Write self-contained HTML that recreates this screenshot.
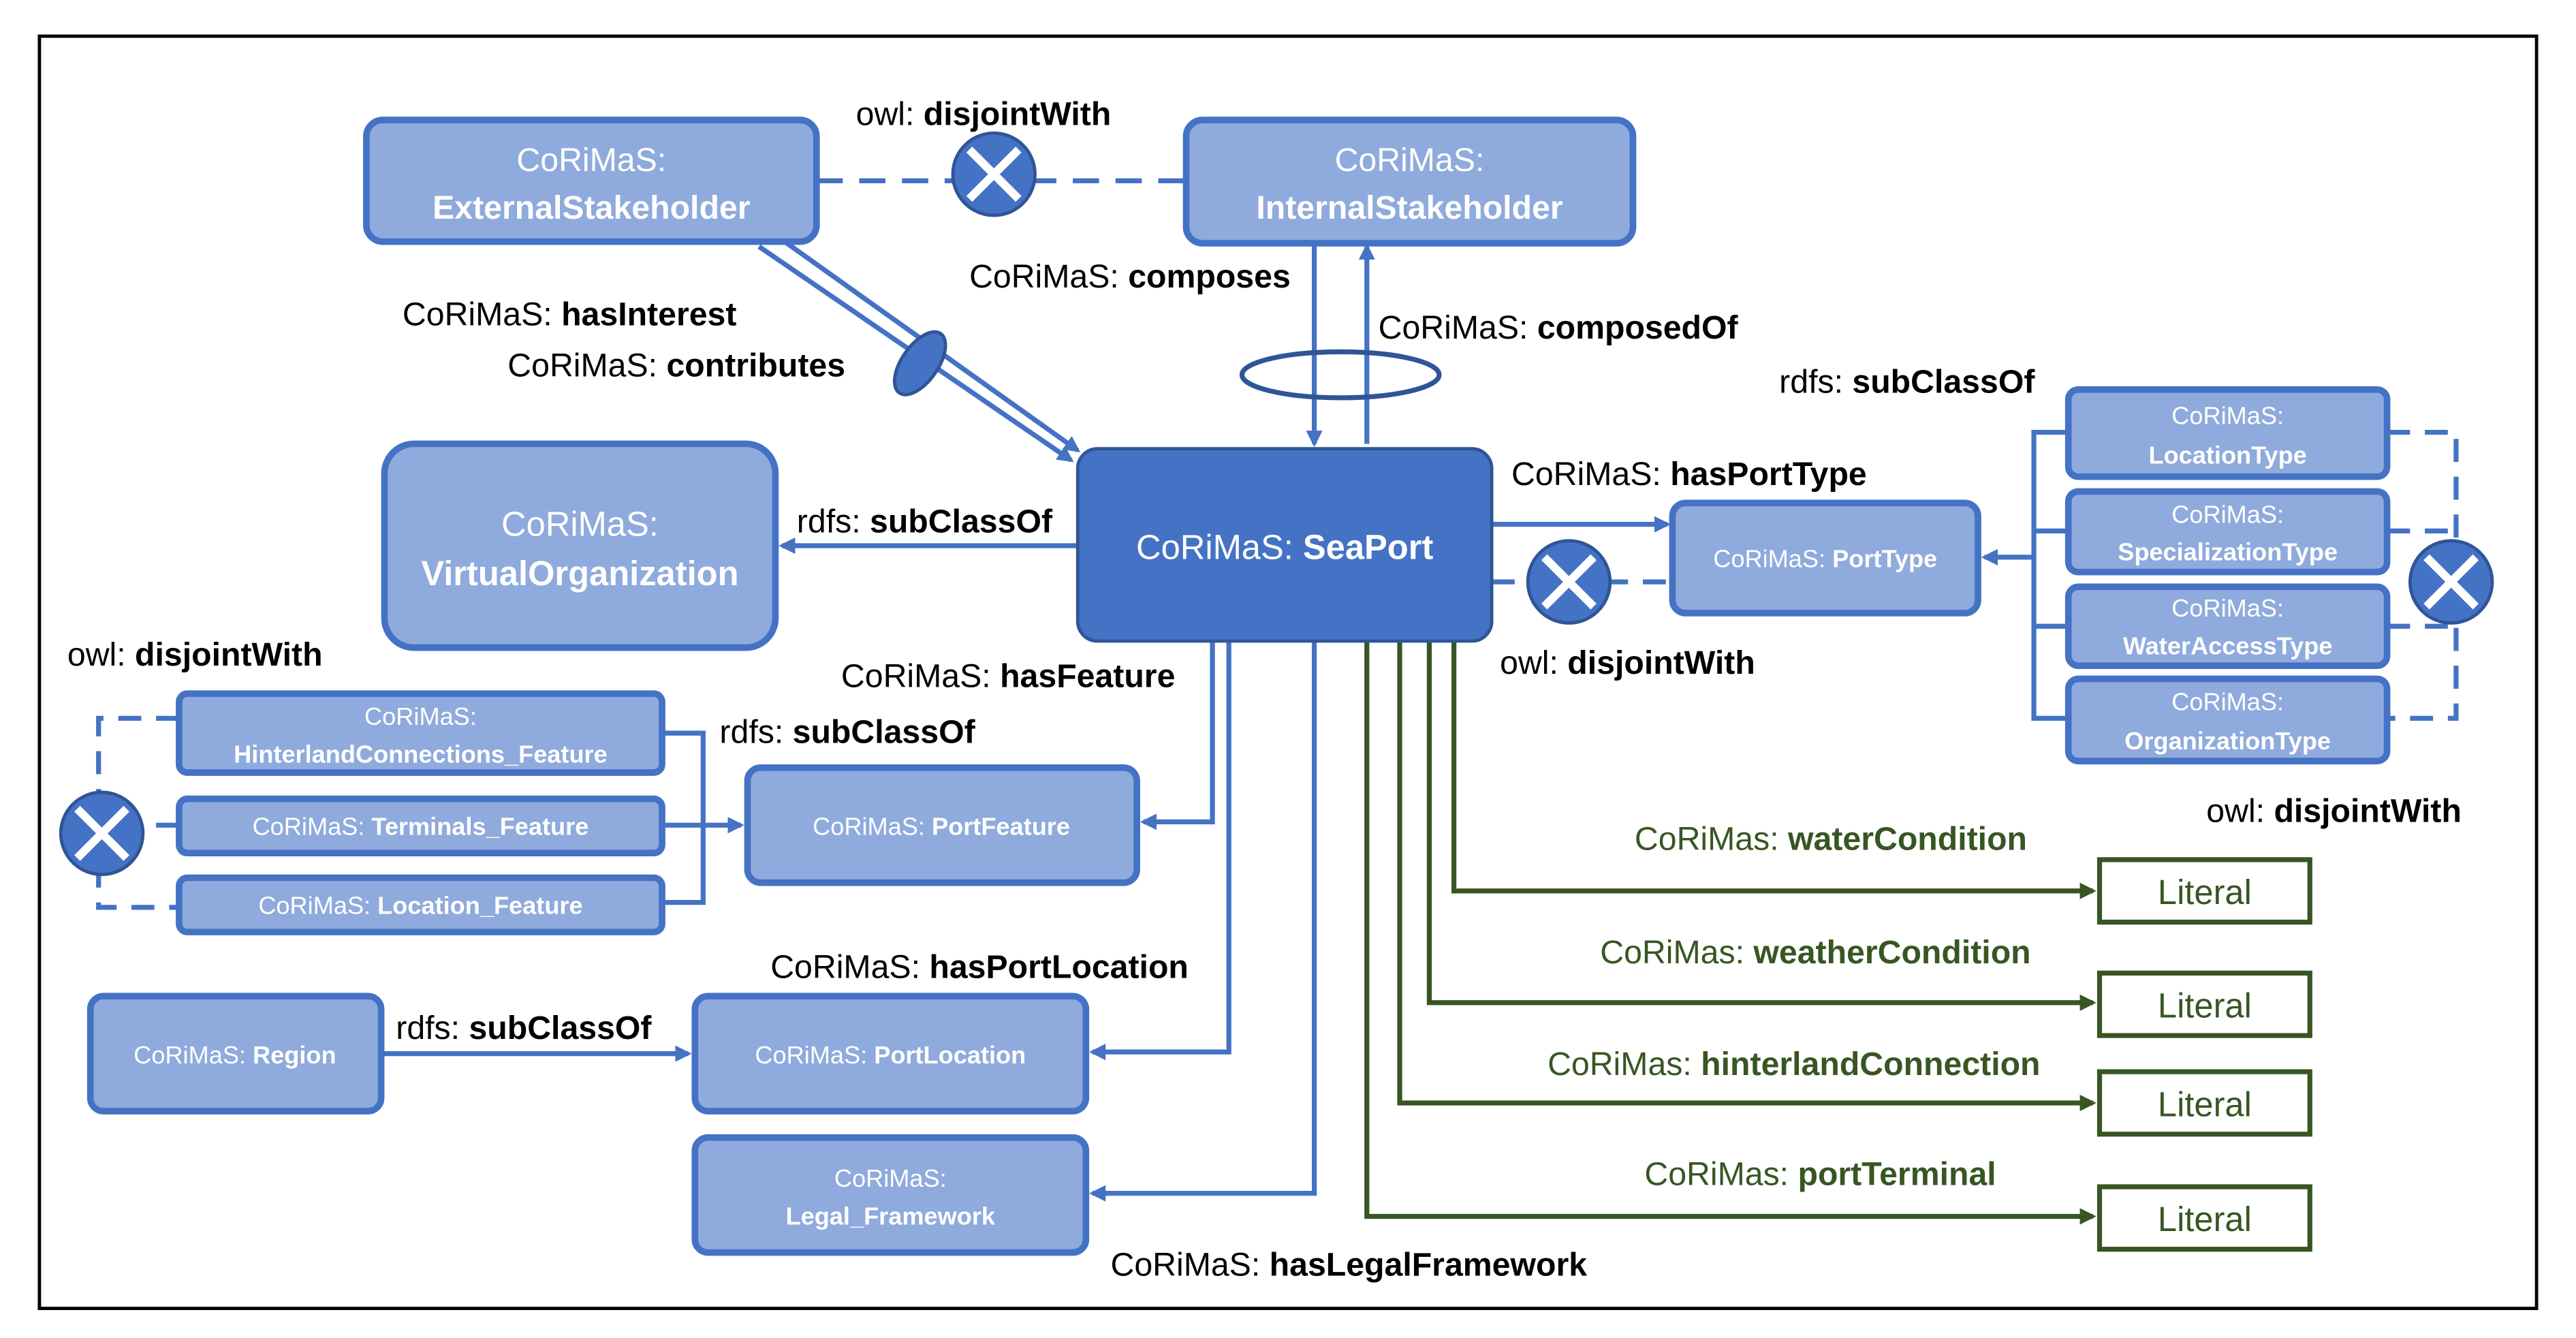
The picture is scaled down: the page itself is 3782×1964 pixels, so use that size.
<!DOCTYPE html>
<html><head><meta charset="utf-8"><style>
html,body{margin:0;padding:0;background:#fff;}
svg{display:block;}
text{font-family:"Liberation Sans","DejaVu Sans",sans-serif;}
</style></head><body>
<svg width="3782" height="1964" viewBox="0 0 1568 814" preserveAspectRatio="none" xmlns="http://www.w3.org/2000/svg">
<defs>
<marker id="ab" markerWidth="10" markerHeight="10" refX="8" refY="5" orient="auto" markerUnits="userSpaceOnUse"><path d="M0,0 L10,5 L0,10 Z" fill="#4472c4"/></marker>
<marker id="ag" markerWidth="10" markerHeight="10" refX="8" refY="5" orient="auto" markerUnits="userSpaceOnUse"><path d="M0,0 L10,5 L0,10 Z" fill="#375623"/></marker>
<g id="x"><circle r="25" fill="#4472c4" stroke="#2f5597" stroke-width="2"/><path d="M-15,-15 L15,15 M15,-15 L-15,15" stroke="#fff" stroke-width="5"/></g>
</defs>
<rect x="24" y="22" width="1520" height="774" fill="#fff" stroke="#000" stroke-width="2"/>

<g fill="none" stroke="#4472c4" stroke-width="3">
<path d="M497,110 L722,110" stroke-dasharray="16,10"/>
<path d="M462,150 L652,280" marker-end="url(#ab)"/>
<path d="M472,143 L656,274" marker-end="url(#ab)"/>
<path d="M800,148 L800,270" marker-end="url(#ab)"/>
<path d="M832,270 L832,150" marker-end="url(#ab)"/>
<ellipse cx="816" cy="228" rx="60" ry="14" stroke="#2f5597"/>
<path d="M656,332 L476,332" marker-end="url(#ab)"/>
<path d="M908,319 L1015,319" marker-end="url(#ab)"/>
<path d="M908,354 L1018,354" stroke-dasharray="14,9"/>
<path d="M1259,263 L1238,263 L1238,437 L1259,437 M1238,323 L1259,323 M1238,381 L1259,381"/>
<path d="M1238,339 L1208,339" marker-end="url(#ab)"/>
<path d="M1453,263 L1495,263 L1495,437 L1453,437 M1453,323 L1495,323 M1453,381 L1495,381" stroke-dasharray="14,9"/>
<path d="M738,390 L738,500 L696,500" marker-end="url(#ab)"/>
<path d="M403,446 L428,446 L428,549 L403,549" />
<path d="M109,437 L60,437 L60,552 L109,552 M109,502 L60,502" stroke-dasharray="14,9"/>
<path d="M748,390 L748,640 L665,640" marker-end="url(#ab)"/>
<path d="M800,390 L800,726 L665,726" marker-end="url(#ab)"/>
<path d="M232,641 L419,641" marker-end="url(#ab)"/>
</g>
<path d="M403,502 L451,502" stroke="#4472c4" stroke-width="3" fill="none" marker-end="url(#ab)"/>
<ellipse cx="560" cy="221" rx="22" ry="11" transform="rotate(-55 560 221)" fill="#4472c4" stroke="#2f5597" stroke-width="2"/>
<g fill="none" stroke="#375623" stroke-width="3">
<path d="M885,390 L885,542 L1274,542" marker-end="url(#ag)"/>
<path d="M870,390 L870,610 L1274,610" marker-end="url(#ag)"/>
<path d="M852,390 L852,671 L1274,671" marker-end="url(#ag)"/>
<path d="M832,390 L832,740 L1274,740" marker-end="url(#ag)"/>
</g>

<use href="#x" x="605" y="106"/>
<use href="#x" x="955" y="354"/>
<use href="#x" x="1492" y="354"/>
<use href="#x" x="62" y="507"/>

<g fill="#8faadc" stroke="#4472c4" stroke-width="4">
<rect x="223" y="73" width="274" height="74" rx="10"/>
<rect x="722" y="73" width="272" height="75" rx="10"/>
<rect x="234" y="270" width="238" height="124" rx="18"/>
<rect x="1018" y="306" width="186" height="67" rx="8"/>
<rect x="1259" y="237" width="194" height="53" rx="6"/>
<rect x="1259" y="299" width="194" height="49" rx="6"/>
<rect x="1259" y="357" width="194" height="48" rx="6"/>
<rect x="1259" y="413" width="194" height="50" rx="6"/>
<rect x="109" y="422" width="294" height="48" rx="5"/>
<rect x="109" y="486" width="294" height="33" rx="5"/>
<rect x="109" y="534" width="294" height="33" rx="5"/>
<rect x="455" y="467" width="237" height="70" rx="8"/>
<rect x="55" y="606" width="177" height="70" rx="8"/>
<rect x="423" y="606" width="238" height="70" rx="8"/>
<rect x="423" y="692" width="238" height="70" rx="8"/>
</g>
<rect x="656" y="273" width="252" height="117" rx="12" fill="#4472c4" stroke="#2f5597" stroke-width="2"/>
<g fill="#fff" stroke="#375623" stroke-width="3">
<rect x="1278" y="523" width="128" height="38"/>
<rect x="1278" y="592" width="128" height="38"/>
<rect x="1278" y="652" width="128" height="38"/>
<rect x="1278" y="722" width="128" height="38"/>
</g>

<g fill="#fff" text-anchor="middle">
<text x="360" y="104" font-size="20">CoRiMaS:</text>
<text x="360" y="133" font-size="20" font-weight="bold">ExternalStakeholder</text>
<text x="858" y="104" font-size="20">CoRiMaS:</text>
<text x="858" y="133" font-size="20" font-weight="bold">InternalStakeholder</text>
<text x="353" y="326" font-size="21">CoRiMaS:</text>
<text x="353" y="356" font-size="21" font-weight="bold">VirtualOrganization</text>
<text x="782" y="340" font-size="21">CoRiMaS: <tspan font-weight="bold">SeaPort</tspan></text>
<text x="1111" y="345" font-size="15">CoRiMaS: <tspan font-weight="bold">PortType</tspan></text>
<g font-size="15">
<text x="1356" y="258">CoRiMaS:</text><text x="1356" y="282" font-weight="bold">LocationType</text>
<text x="1356" y="318">CoRiMaS:</text><text x="1356" y="341" font-weight="bold">SpecializationType</text>
<text x="1356" y="375">CoRiMaS:</text><text x="1356" y="398" font-weight="bold">WaterAccessType</text>
<text x="1356" y="432">CoRiMaS:</text><text x="1356" y="456" font-weight="bold">OrganizationType</text>
<text x="256" y="441">CoRiMaS:</text><text x="256" y="464" font-weight="bold">HinterlandConnections_Feature</text>
<text x="256" y="508">CoRiMaS: <tspan font-weight="bold">Terminals_Feature</tspan></text>
<text x="256" y="556">CoRiMaS: <tspan font-weight="bold">Location_Feature</tspan></text>
<text x="573" y="508">CoRiMaS: <tspan font-weight="bold">PortFeature</tspan></text>
<text x="143" y="647">CoRiMaS: <tspan font-weight="bold">Region</tspan></text>
<text x="542" y="647">CoRiMaS: <tspan font-weight="bold">PortLocation</tspan></text>
<text x="542" y="722">CoRiMaS:</text><text x="542" y="745" font-weight="bold">Legal_Framework</text>
</g>
</g>
<g fill="#375623" font-size="21" text-anchor="middle">
<text x="1342" y="550">Literal</text>
<text x="1342" y="619">Literal</text>
<text x="1342" y="679">Literal</text>
<text x="1342" y="749">Literal</text>
</g>

<g fill="#000" font-size="20">
<text x="521" y="76">owl: <tspan font-weight="bold">disjointWith</tspan></text>
<text x="590" y="175">CoRiMaS: <tspan font-weight="bold">composes</tspan></text>
<text x="245" y="198">CoRiMaS: <tspan font-weight="bold">hasInterest</tspan></text>
<text x="309" y="229">CoRiMaS: <tspan font-weight="bold">contributes</tspan></text>
<text x="839" y="206">CoRiMaS: <tspan font-weight="bold">composedOf</tspan></text>
<text x="1083" y="239">rdfs: <tspan font-weight="bold">subClassOf</tspan></text>
<text x="920" y="295">CoRiMaS: <tspan font-weight="bold">hasPortType</tspan></text>
<text x="485" y="324">rdfs: <tspan font-weight="bold">subClassOf</tspan></text>
<text x="913" y="410">owl: <tspan font-weight="bold">disjointWith</tspan></text>
<text x="41" y="405">owl: <tspan font-weight="bold">disjointWith</tspan></text>
<text x="512" y="418">CoRiMaS: <tspan font-weight="bold">hasFeature</tspan></text>
<text x="438" y="452">rdfs: <tspan font-weight="bold">subClassOf</tspan></text>
<text x="1343" y="500">owl: <tspan font-weight="bold">disjointWith</tspan></text>
<text x="469" y="595">CoRiMaS: <tspan font-weight="bold">hasPortLocation</tspan></text>
<text x="241" y="632">rdfs: <tspan font-weight="bold">subClassOf</tspan></text>
<text x="676" y="776">CoRiMaS: <tspan font-weight="bold">hasLegalFramework</tspan></text>
</g>
<g fill="#375623" font-size="20">
<text x="995" y="517">CoRiMas: <tspan font-weight="bold">waterCondition</tspan></text>
<text x="974" y="586">CoRiMas: <tspan font-weight="bold">weatherCondition</tspan></text>
<text x="942" y="654">CoRiMas: <tspan font-weight="bold">hinterlandConnection</tspan></text>
<text x="1001" y="721">CoRiMas: <tspan font-weight="bold">portTerminal</tspan></text>
</g>
</svg>
</body></html>
